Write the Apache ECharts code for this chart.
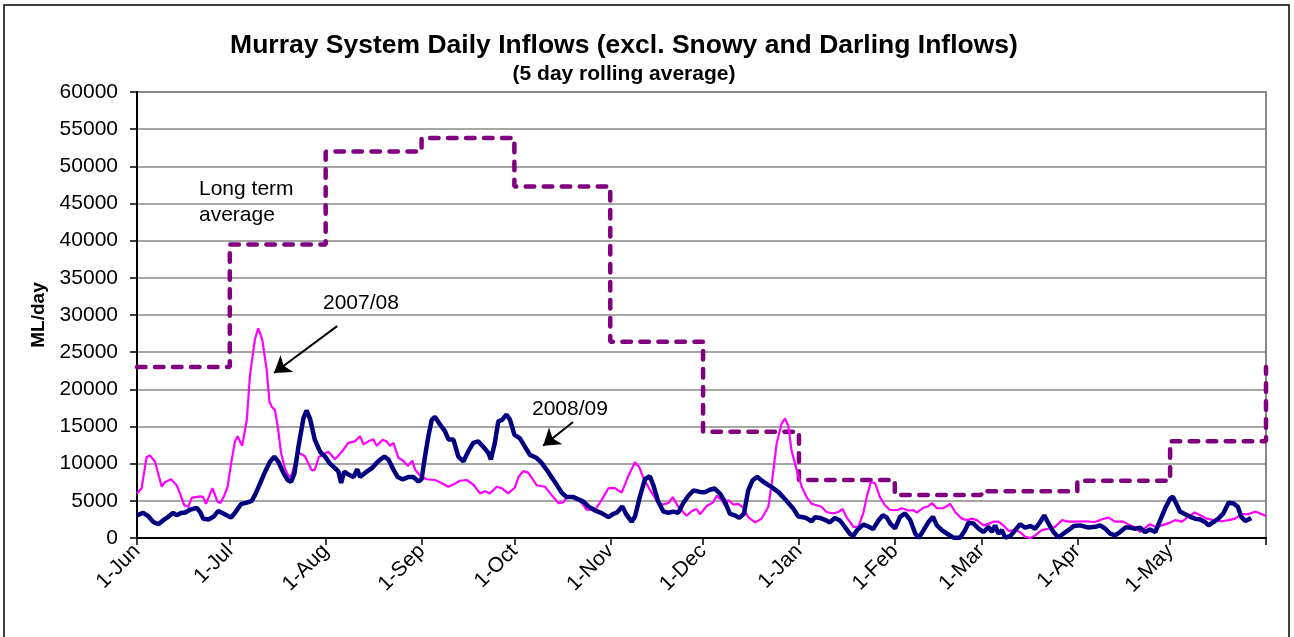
<!DOCTYPE html>
<html>
<head>
    <meta charset="utf-8">
    <script src="https://cdn.jsdelivr.net/npm/echarts@6.0.0/dist/echarts.min.js"></script>
    <style>
        body { margin: 0; background: #fff; }
    </style>
</head>
<body>
    <div id="main" style="width:1294px;height:637px;"></div>
</body>
<script type="text/javascript">
    // day offsets from 1-Jun, and the month labels on the x axis
    var monthStarts = [0, 30, 61, 92, 122, 153, 183, 214, 245, 273, 304, 334];
    var monthLabels = ['1-Jun', '1-Jul', '1-Aug', '1-Sep', '1-Oct', '1-Nov', '1-Dec', '1-Jan', '1-Feb', '1-Mar', '1-Apr', '1-May'];

    // long term average, monthly (last point = June again)
    var ltaDays = [0, 30, 61, 92, 122, 153, 183, 214, 245, 273, 304, 334, 365];
    var ltaFlow = [23000, 39500, 52000, 53800, 47300, 26400, 14300, 7800, 5800, 6300, 7700, 13000, 23000];

    // 2007/08 inflows (ML/day)
    var days07 = [0, 1.5, 3.1, 4.2, 5.8, 8, 9, 11, 12.8, 13.9, 15.3, 16.6, 17.7, 20.4, 21.4, 22.3, 24.4, 26, 27, 28, 29.3, 30.6, 31.7, 32.5, 34, 35.5, 36.5, 38.1, 39.2, 40.5, 41.9, 42.8, 43.5, 44.6, 45.5, 46.6, 47.8, 49.1, 50, 51, 52.2, 54.3, 56.5, 57.5, 58.8, 60.8, 61.9, 64, 66.2, 68.3, 70.5, 72.1, 73.2, 74.8, 76.4, 77.5, 79.3, 80.7, 81.8, 82.9, 84.5, 86.1, 87.5, 89, 89.9, 91.5, 93.6, 96.3, 98.5, 100.6, 102.3, 104.4, 106.6, 108.7, 110.9, 112.5, 114.1, 116.3, 117.9, 120, 122.2, 123.3, 124.9, 126.5, 128.1, 129.2, 131.9, 134, 136.2, 137.8, 139.4, 141.6, 143.8, 145.4, 148.1, 150.2, 152.4, 154.5, 156.7, 158.8, 161, 162.3, 163.7, 165.8, 168.5, 170.2, 171.8, 173.2, 175, 177.7, 179.3, 180.9, 182, 184.2, 186.3, 187.4, 189, 190.1, 191.2, 192.8, 194.4, 196, 197.6, 199.8, 201.9, 204.1, 205.2, 206.8, 208.4, 209.5, 210.6, 211.6, 213.3, 214.9, 216.5, 218.1, 219.7, 221.3, 222.9, 225.1, 226.7, 228.1, 229.4, 231.6, 233.2, 234.8, 235.9, 237.2, 238.6, 240.2, 241.8, 243.4, 245.7, 247.3, 249.4, 251, 252.1, 254.3, 255.6, 257, 258.6, 260.7, 262.9, 264.5, 266.7, 268.3, 269.9, 271.5, 273.7, 275.3, 276.9, 278.5, 280.1, 281.8, 283.9, 285.5, 287.1, 288.8, 290.4, 292.5, 294.7, 296.8, 299, 301.1, 303.3, 306.5, 309.8, 311.9, 314.1, 316.2, 318.9, 321.1, 322.7, 324.3, 325.9, 327.5, 329.7, 331.3, 333.5, 335.6, 337.8, 339.9, 341.9, 343.7, 345.9, 348, 350.7, 352.9, 355, 357.2, 359.3, 361.5, 363.1, 365];
    var flow07 = [6000, 6700, 10900, 11100, 10300, 6900, 7500, 7900, 7100, 6000, 4400, 4200, 5400, 5600, 5500, 4600, 6700, 4900, 4700, 5500, 6900, 10500, 13000, 13700, 12400, 15900, 21800, 26700, 28200, 26700, 22700, 18400, 17700, 17200, 15000, 11400, 9400, 8200, 8500, 10000, 11500, 11000, 9100, 9200, 10900, 11400, 11600, 10600, 11600, 12800, 13000, 13700, 12600, 13000, 13300, 12400, 13200, 13000, 12400, 12800, 10800, 10400, 9700, 10400, 9200, 8400, 7900, 7800, 7400, 6900, 7200, 7700, 7800, 7200, 6000, 6300, 6000, 6900, 6700, 6000, 6800, 8200, 9000, 8800, 7800, 7100, 6900, 5800, 4700, 4800, 5600, 5500, 4700, 3800, 3800, 5100, 6700, 6700, 6100, 8300, 10200, 9600, 8100, 6500, 4700, 4500, 4700, 5500, 4200, 3000, 3600, 3900, 3200, 4300, 4800, 5700, 5100, 4300, 5100, 4500, 4600, 4100, 2800, 2100, 2600, 4200, 7300, 12700, 15400, 16100, 15000, 11800, 9100, 6900, 5500, 4600, 4400, 4200, 3500, 3300, 3500, 3900, 2800, 1500, 1500, 3300, 5500, 7500, 7400, 5500, 4400, 3800, 3750, 4000, 3700, 3750, 3400, 4100, 4200, 4700, 4000, 4000, 4600, 3500, 2600, 2400, 2600, 2400, 1700, 1900, 2200, 2200, 1700, 950, 1050, 800, 150, 0, 350, 1050, 1250, 1500, 2400, 2200, 2200, 2250, 2150, 2500, 2750, 2200, 2200, 1700, 1400, 800, 1350, 1850, 1400, 1700, 2000, 2400, 2200, 2850, 3450, 3050, 2600, 2400, 2250, 2400, 2600, 3200, 3200, 3550, 3300, 2950];

    // 2008/09 inflows (ML/day)
    var days08 = [0, 2, 3.7, 5.3, 6.9, 8.5, 10.1, 11.7, 12.8, 14.4, 15.5, 17.1, 19.3, 20.4, 21.4, 23.1, 24.7, 26.3, 27.4, 29, 30.4, 31.7, 33.6, 35.5, 37.1, 38.4, 39.8, 41.4, 43, 44.4, 45.7, 47.3, 48.7, 49.8, 50.9, 52.2, 53.8, 54.8, 55.9, 57.5, 59.2, 60.8, 62.4, 64, 65.1, 66, 67, 68.5, 70, 71.2, 72.1, 73.7, 75.9, 77.5, 78.6, 80, 81.3, 82.9, 84.3, 85.8, 87.7, 89.3, 91, 92, 93.1, 94.2, 95.3, 96.3, 98, 99.6, 100.7, 102.3, 103.9, 105.5, 107.1, 108.7, 110.3, 112, 113.6, 114.4, 115.7, 116.8, 117.9, 119.5, 120.6, 122, 123.8, 125.4, 127, 129.2, 130.8, 132.4, 134, 135.7, 137.3, 138.9, 141.1, 142.7, 144.3, 145.9, 148.1, 150.2, 152.4, 154, 155.1, 156.9, 158.3, 159.9, 161, 162.6, 164.2, 165.8, 166.9, 168.5, 170.2, 171.8, 173.4, 175, 176.6, 178.2, 179.9, 182, 183.6, 185.2, 186.8, 188.5, 190.1, 191.7, 193.3, 194.7, 196.2, 197.6, 199, 200.5, 201.9, 203.6, 205.2, 207.3, 208.9, 210.6, 212.2, 213.8, 215.4, 216.7, 218.1, 219.2, 220.8, 222.4, 224, 225.6, 227.3, 228.9, 230.5, 231.6, 232.9, 234.8, 236.4, 238, 239.7, 241.1, 242.3, 243.6, 245.1, 246.7, 248.3, 250, 251.6, 252.7, 254.3, 255.9, 257.3, 258.6, 260.2, 261.8, 264, 266.1, 267.7, 268.8, 270.4, 272.1, 273.7, 275.3, 276.4, 277.4, 278.5, 279.6, 280.7, 282.3, 283.9, 285.5, 287.1, 288.8, 290.4, 292, 293.3, 294.7, 296.3, 297.9, 299.5, 301.1, 302.8, 304.9, 307.6, 309.8, 311.4, 313, 314.6, 316.2, 317.8, 319.5, 321.1, 322.7, 324.3, 325.9, 327.5, 329.2, 330.8, 332.4, 334, 334.9, 336.2, 337.2, 338.9, 340.5, 342.1, 343.7, 345.3, 346.4, 348, 349.6, 351.2, 352.9, 354.5, 355.9, 357, 358.3, 359.3, 360.2];
    var flow08 = [3050, 3400, 2900, 2150, 1850, 2400, 2850, 3400, 3050, 3400, 3400, 3800, 4050, 3500, 2600, 2500, 2850, 3650, 3400, 3050, 2750, 3400, 4550, 4750, 5000, 6000, 7350, 8900, 10250, 10950, 10250, 8800, 7800, 7550, 8700, 12300, 16100, 17150, 16100, 13200, 11600, 10950, 10000, 9400, 8950, 7400, 8950, 8500, 8200, 9250, 8200, 8750, 9400, 10100, 10550, 10950, 10550, 9200, 8200, 7900, 8200, 8200, 7600, 7900, 10950, 13700, 15900, 16300, 15250, 14350, 13250, 13250, 10950, 10300, 11650, 12800, 13000, 12250, 11450, 10550, 12800, 15700, 15850, 16600, 15900, 13900, 13400, 12300, 11200, 10750, 10100, 9200, 8200, 7150, 6100, 5500, 5500, 5200, 4900, 4250, 3700, 3350, 2800, 3250, 3400, 4250, 3100, 2200, 2900, 5600, 7900, 8300, 7150, 4900, 3550, 3400, 3550, 3400, 4700, 5650, 6400, 6200, 6150, 6500, 6650, 5950, 4850, 3250, 3050, 2700, 3250, 6400, 7750, 8250, 7750, 7250, 6850, 6200, 5500, 4700, 3950, 2900, 2800, 2600, 2250, 2800, 2700, 2450, 2100, 2700, 2350, 1450, 550, 300, 1100, 1800, 1550, 1200, 2350, 3050, 2800, 1900, 1300, 2850, 3300, 2400, 600, 0, 1050, 2150, 2850, 1700, 1050, 600, 50, 50, 1050, 2050, 1950, 1250, 800, 1500, 800, 1700, 600, 1050, 50, 250, 1050, 1850, 1400, 1600, 1250, 2150, 3050, 1950, 800, 50, 600, 1050, 1600, 1700, 1400, 1500, 1700, 1250, 600, 350, 800, 1400, 1400, 1250, 1400, 800, 1150, 800, 2400, 4000, 5300, 5550, 4450, 3550, 3200, 2850, 2600, 2500, 2150, 1700, 2150, 2600, 3300, 4750, 4650, 4200, 2850, 2300, 2500, 2700];

    function pairs(xs, ys) {
        return xs.map(function (x, i) { return [x, ys[i]]; });
    }

    var font = 'Liberation Sans, Arial, sans-serif';
    var myChart = echarts.init(document.getElementById('main'));

    myChart.setOption({
        backgroundColor: '#fff',
        animation: false,
        title: {
            text: 'Murray System Daily Inflows (excl. Snowy and Darling Inflows)',
            subtext: '(5 day rolling average)',
            left: 619,
            top: 27,
            textAlign: 'center',
            itemGap: 5,
            textStyle: { fontFamily: font, fontSize: 26.5, fontWeight: 'bold', color: '#000' },
            subtextStyle: { fontFamily: font, fontSize: 21, fontWeight: 'bold', color: '#000' }
        },
        grid: {
            left: 137, top: 92, width: 1129, height: 446,
            show: true, borderColor: '#888', borderWidth: 2
        },
        xAxis: {
            type: 'value',
            min: 0,
            max: 365,
            axisLine: { lineStyle: { color: '#000', width: 2 } },
            axisTick: { customValues: monthStarts.concat([365]), length: 7, lineStyle: { color: '#000', width: 1.5 } },
            axisLabel: {
                customValues: monthStarts,
                rotate: 45,
                margin: 10,
                fontFamily: font,
                fontSize: 21,
                color: '#000',
                formatter: function (v) {
                    var i = monthStarts.indexOf(v);
                    return i >= 0 ? monthLabels[i] : '';
                }
            },
            splitLine: { show: false }
        },
        yAxis: {
            type: 'value',
            min: 0,
            max: 60000,
            interval: 5000,
            name: 'ML/day',
            nameLocation: 'middle',
            nameRotate: 90,
            nameGap: 88,
            nameTextStyle: { fontFamily: font, fontSize: 19, fontWeight: 'bold', color: '#000' },
            axisLine: { show: true, lineStyle: { color: '#000', width: 2 } },
            axisTick: { show: true, length: 7, lineStyle: { color: '#000', width: 1.5 } },
            axisLabel: {
                margin: 19,
                fontFamily: font,
                fontSize: 21,
                color: '#000',
                formatter: function (v) { return String(v); }
            },
            splitLine: { lineStyle: { color: '#888', width: 1.5 } }
        },
        graphic: [
            {
                type: 'rect',
                shape: { x: 4, y: 5, width: 1285, height: 640 },
                style: { fill: 'none', stroke: '#000', lineWidth: 1.5 },
                silent: true
            },
            {
                type: 'text', left: 199, top: 176,
                style: { text: 'Long term\naverage', fontFamily: font, fontSize: 21, lineHeight: 26, fill: '#000' }
            },
            {
                type: 'text', left: 323, top: 293,
                style: { text: '2007/08', fontFamily: font, fontSize: 21, fill: '#000' }
            },
            {
                type: 'text', left: 532, top: 399,
                style: { text: '2008/09', fontFamily: font, fontSize: 21, fill: '#000' }
            }
        ],
        series: [
            {
                name: 'Long term average',
                type: 'line',
                step: 'end',
                showSymbol: false,
                data: pairs(ltaDays, ltaFlow),
                lineStyle: { color: '#800080', width: 4.5, type: [8.5, 9.5], cap: 'round' },
                z: 3
            },
            {
                name: '2007/08',
                type: 'line',
                showSymbol: false,
                data: pairs(days07, flow07),
                lineStyle: { color: '#ff00ff', width: 2.2 },
                z: 4,
                markLine: {
                    silent: true,
                    symbol: ['none', 'arrow'],
                    symbolSize: 16,
                    label: { show: false },
                    lineStyle: { color: '#000', width: 2, type: 'solid' },
                    data: [
                        [{ coord: [64.7, 28500] }, { coord: [44.3, 22200] }],
                        [{ coord: [141, 15600] }, { coord: [131.3, 12400] }]
                    ]
                }
            },
            {
                name: '2008/09',
                type: 'line',
                showSymbol: false,
                data: pairs(days08, flow08),
                lineStyle: { color: '#000080', width: 4.5 },
                z: 5
            }
        ]
    });
</script>
</html>
